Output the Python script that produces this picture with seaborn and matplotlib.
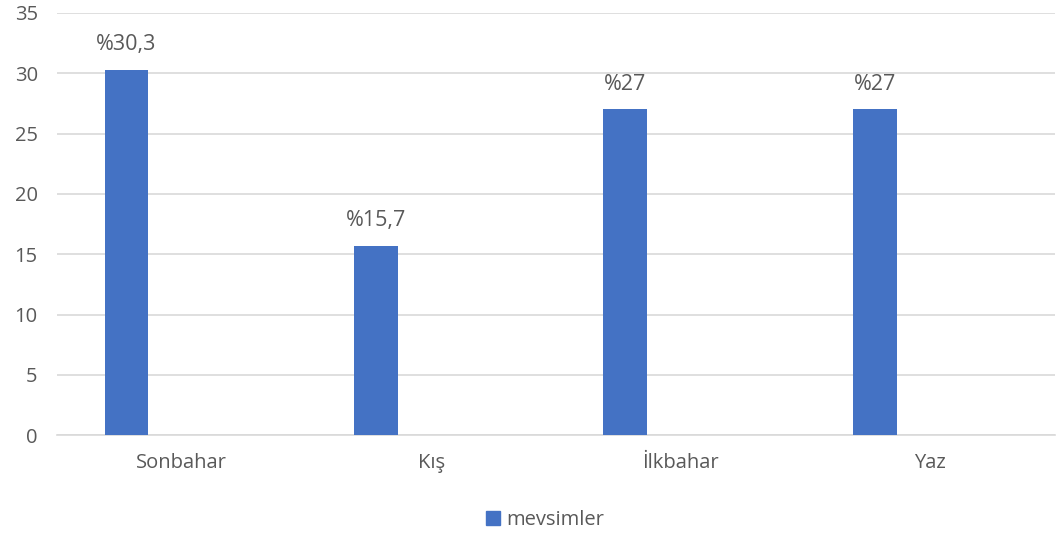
import matplotlib
matplotlib.use("Agg")
import matplotlib.pyplot as plt
import seaborn as sns
import pandas as pd
from matplotlib.patches import Patch

categories = ["Sonbahar", "Kış", "İlkbahar", "Yaz"]
values = [30.3, 15.7, 27, 27]
labels = ["%30,3", "%15,7", "%27", "%27"]
series_name = "mevsimler"
yticks = [0, 5, 10, 15, 20, 25, 30, 35]

sns.set_theme(style="white")
plt.rcParams['font.family'] = ['Open Sans', 'DejaVu Sans']

text_color = "#595959"
bar_color = "#4472C4"
grid_color = "#D9D9D9"

df = pd.DataFrame({"cat": categories, "val": values})

fig = plt.figure(figsize=(10.58, 5.36), dpi=100)
ax = fig.add_axes([0.054, 0.188, 0.943, 0.788])

sns.barplot(data=df, x="cat", y="val", color=bar_color, width=0.176, ax=ax,
            saturation=1, zorder=3, linewidth=0)

offset = -0.222
# shift bars left within category (clustered with empty second series)
for p in ax.patches:
    p.set_x(p.get_x() + offset)

for i, (v, lab) in enumerate(zip(values, labels)):
    ax.text(i + offset, v + 1.2, lab, ha="center", va="bottom",
            fontsize=15.5, color=text_color)

ax.set_xlim(-0.5, 3.5)
ax.set_ylim(0, 35)
ax.set_yticks(yticks)
ax.set_yticklabels([str(t) for t in yticks], fontsize=14.5, color=text_color)
ax.tick_params(axis="x", labelsize=14.5, colors=text_color, length=0, pad=13)
ax.tick_params(axis="y", length=0, pad=14)
for lbl in ax.get_xticklabels():
    lbl.set_color(text_color)
ax.yaxis.grid(True, color=grid_color, linewidth=1.2, zorder=0)
ax.set_axisbelow(True)
for s in ["top", "right", "left"]:
    ax.spines[s].set_visible(False)
ax.spines["bottom"].set_color(grid_color)
ax.spines["bottom"].set_linewidth(1.2)
ax.set_xlabel("")
ax.set_ylabel("")

handles = [Patch(facecolor=bar_color, edgecolor=bar_color)]
fig.legend(handles, [series_name], loc="center", bbox_to_anchor=(0.515, 0.03),
           frameon=False, fontsize=14.5, labelcolor=text_color,
           handlelength=0.7, handleheight=0.7, handletextpad=0.3)

fig.savefig("out.png", dpi=100)
